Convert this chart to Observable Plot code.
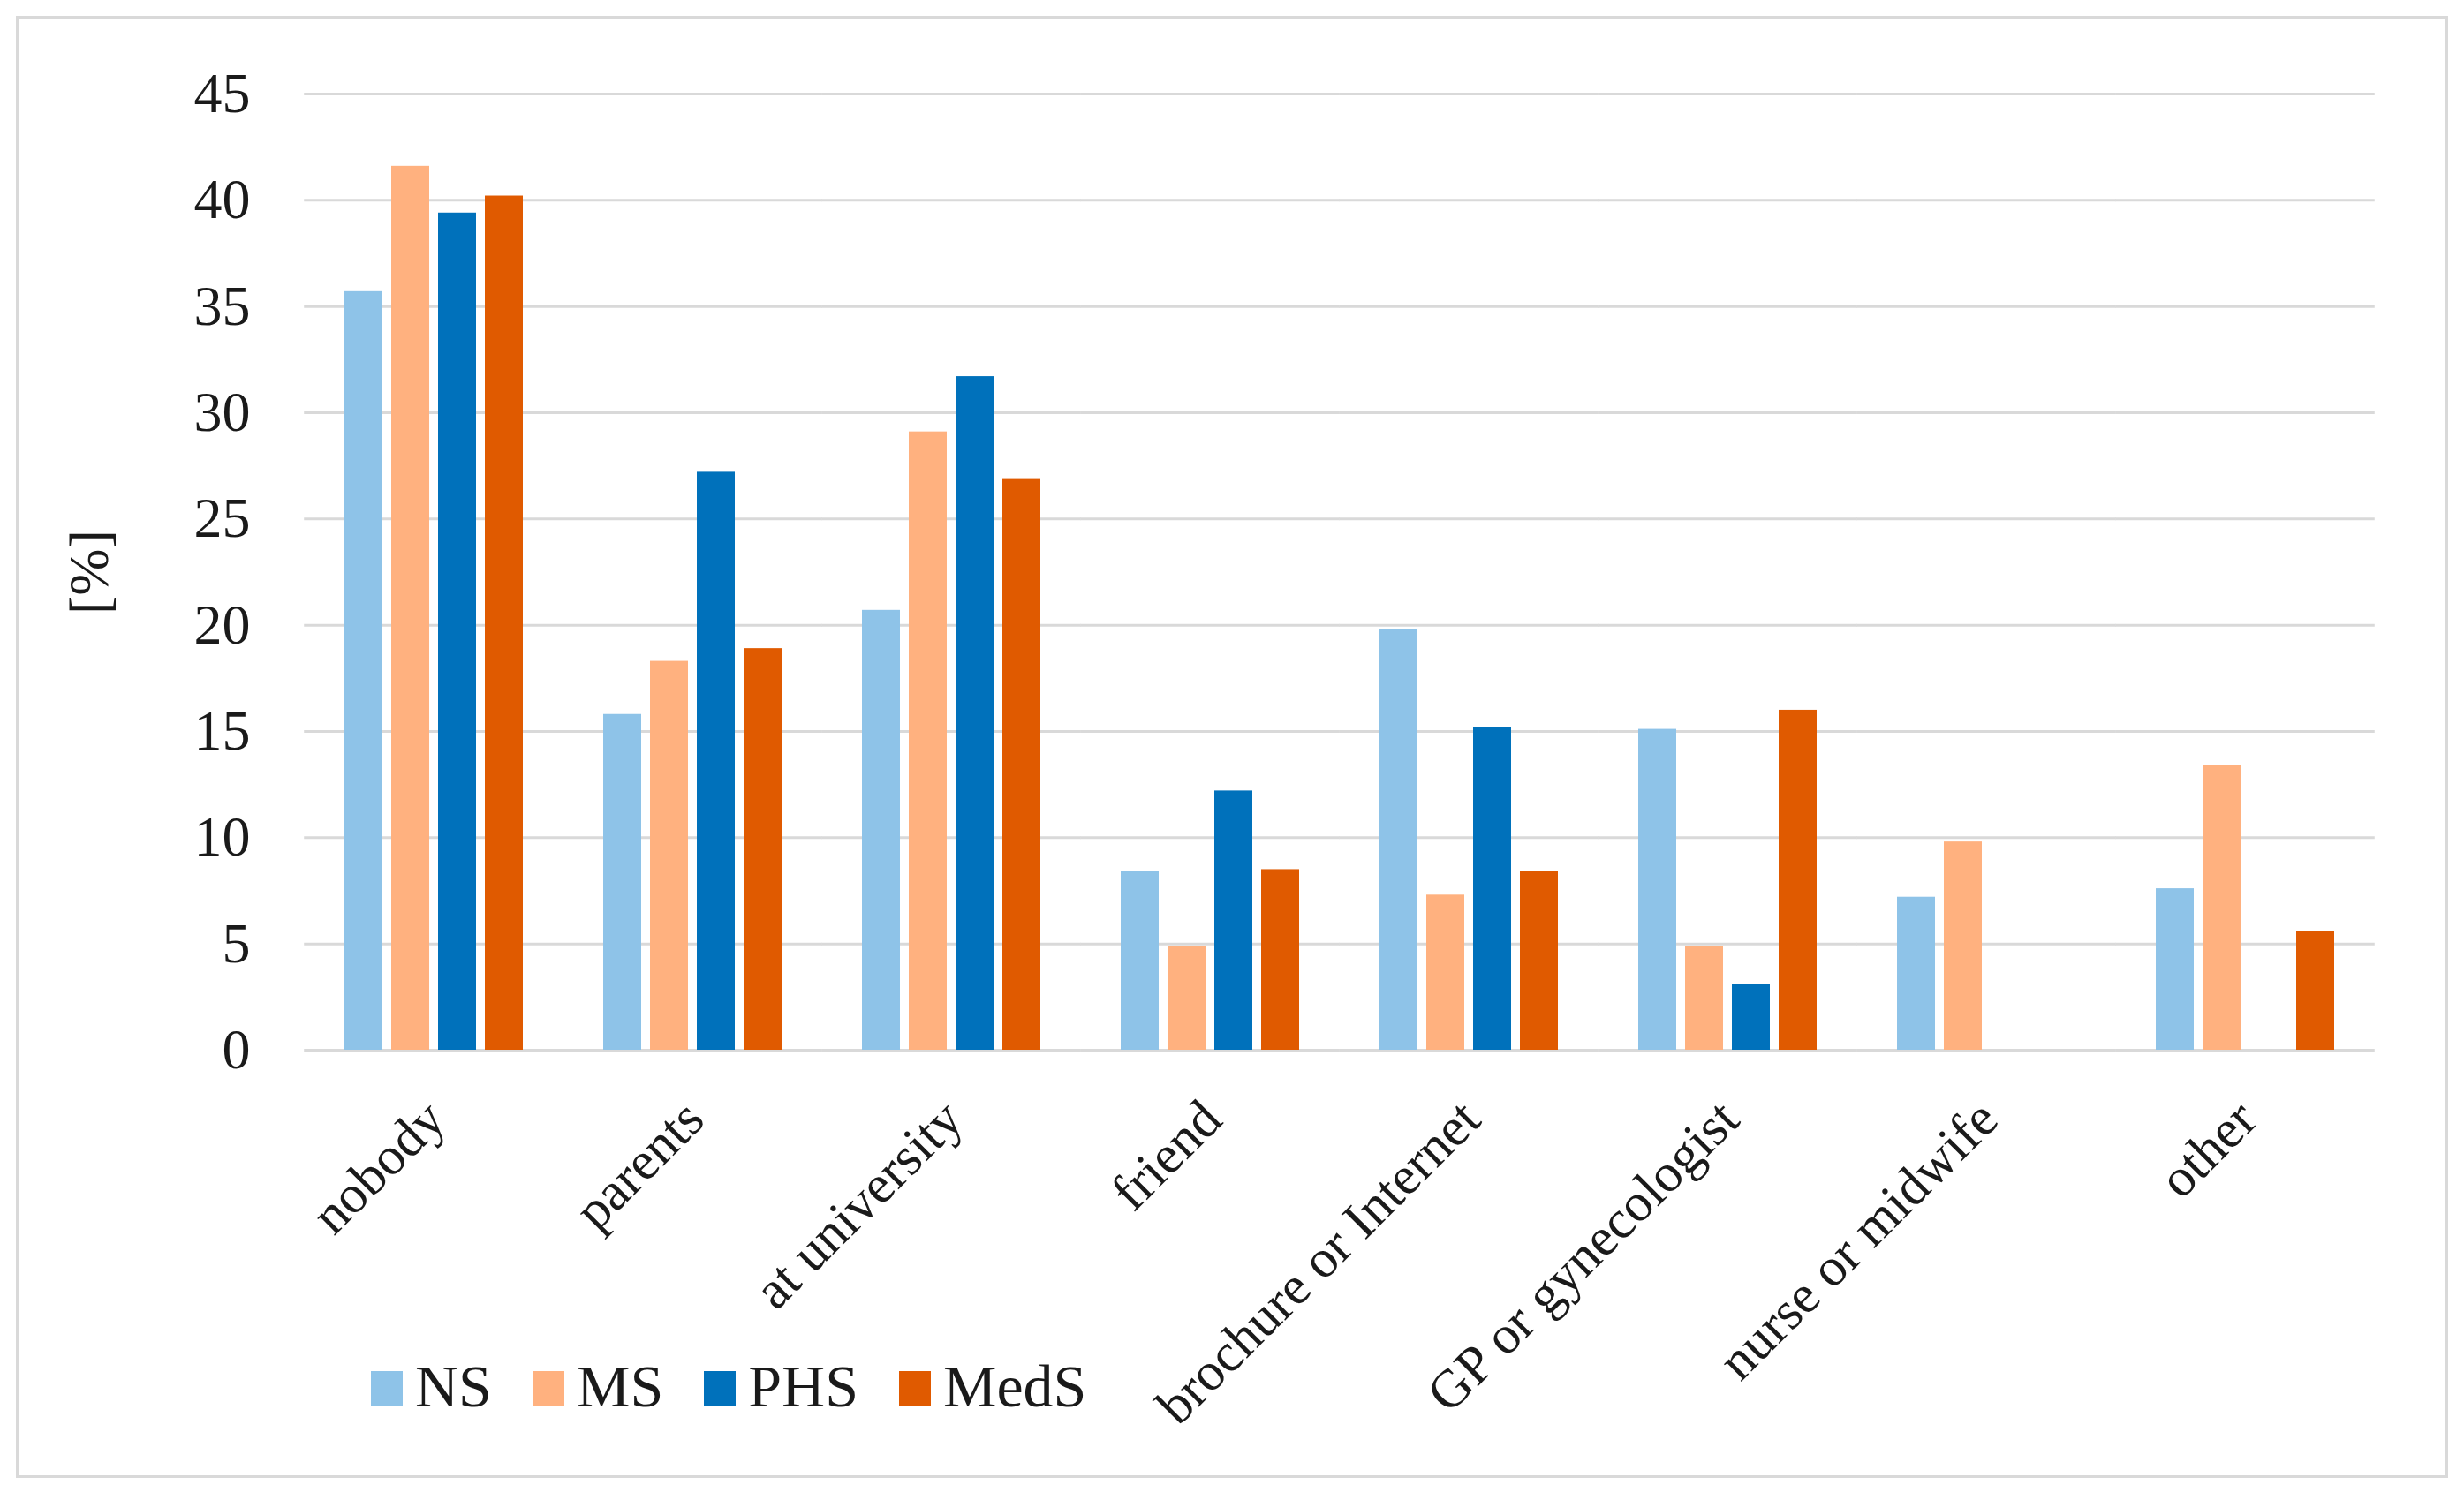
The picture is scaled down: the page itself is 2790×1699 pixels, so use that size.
<!DOCTYPE html>
<html>
<head>
<meta charset="utf-8">
<script src="https://cdn.jsdelivr.net/npm/d3@7"></script>
<script src="https://cdn.jsdelivr.net/npm/@observablehq/plot@0.6"></script>
<style>
  html, body { margin: 0; padding: 0; background: #fff; }
  #wrap { position: relative; width: 2790px; height: 1699px; overflow: hidden; }
  #frame { position: absolute; left: 18px; top: 18px; width: 2754px; height: 1656px;
           border: 3px solid #d9d9d9; box-sizing: border-box; }
  #chart svg { position: absolute; left: 0; top: 0; }
  #legend { position: absolute; left: 420px; top: 1536px; font-family: "Liberation Serif", serif;
            font-size: 68px; line-height: 1; color: #1a1a1a; white-space: nowrap; }
  #legend .item { display: inline-block; margin-right: 46px; }
  #legend .sw { display: inline-block; width: 36px; height: 40px; margin-right: 14px; vertical-align: baseline; }
</style>
</head>
<body>
<div id="wrap">
  <div id="frame"></div>
  <div id="chart"></div>
  <div id="legend"></div>
</div>
<script>
// ---- data ----
const categories = ["nobody", "parents", "at university", "friend", "brochure or Internet",
                    "GP or gynecologist", "nurse or midwife", "other"];
const series = ["NS", "MS", "PHS", "MedS"];
const NS   = [35.7, 15.8, 20.7, 8.4, 19.8, 15.1, 7.2, 7.6];
const MS   = [41.6, 18.3, 29.1, 4.9, 7.3, 4.9, 9.8, 13.4];
const PHS  = [39.4, 27.2, 31.7, 12.2, 15.2, 3.1, null, null];
const MedS = [40.2, 18.9, 26.9, 8.5, 8.4, 16.0, null, 5.6];
const colors = ["#8EC3E8", "#FFB17F", "#0071BB", "#E05A00"];
const yTicks = [0, 5, 10, 15, 20, 25, 30, 35, 40, 45];
const yLabel = "[%]";

const valuesBySeries = {NS, MS, PHS, MedS};
const rows = [];
categories.forEach((c, i) => {
  series.forEach(s => {
    const v = valuesBySeries[s][i];
    if (v != null) rows.push({category: c, series: s, value: v});
  });
});

const font = "Liberation Serif";
const W = 2790, H = 1699, ML = 342, MR = 100, MT = 106, MB = 510;
const fxPadInner = 0.312, fxPadOuter = fxPadInner / 2;
// half of the gap between groups: gridlines in each group are extended by it so they join up
const step = (W - ML - MR) / categories.length;
const ext = step * fxPadInner / 2;

const plot = Plot.plot({
  width: W,
  height: H,
  marginLeft: ML,
  marginRight: MR,
  marginTop: MT,
  marginBottom: MB,
  style: {fontFamily: font, fontSize: "62px", color: "#1a1a1a", background: "transparent", overflow: "visible"},
  fx: {domain: categories, paddingInner: fxPadInner, paddingOuter: fxPadOuter},
  x: {domain: series, paddingInner: 0.19, paddingOuter: 0, axis: null},
  y: {domain: [0, 45], axis: null},
  color: {domain: series, range: colors},
  marks: [
    Plot.ruleY(yTicks, {stroke: "#d9d9d9", strokeWidth: 3, insetLeft: -ext, insetRight: -ext}),
    Plot.barY(rows, {fx: "category", x: "series", y: "value", fill: "series"}),
    Plot.axisY({ticks: yTicks, tickSize: 0, tickPadding: 107, fontSize: 64,
                label: yLabel, labelAnchor: "center", labelOffset: 314, labelArrow: "none"}),
    Plot.axisFx({anchor: "bottom", tickSize: 0, tickRotate: -45, tickPadding: 68, dx: 2,
                 fontSize: 61, label: null})
  ]
});
document.getElementById("chart").appendChild(plot);

// ---- legend ----
const legend = d3.select("#legend");
series.forEach((s, i) => {
  const item = legend.append("span").attr("class", "item");
  item.append("span").attr("class", "sw").style("background", colors[i]);
  item.append("span").text(s);
});
</script>
</body>
</html>
